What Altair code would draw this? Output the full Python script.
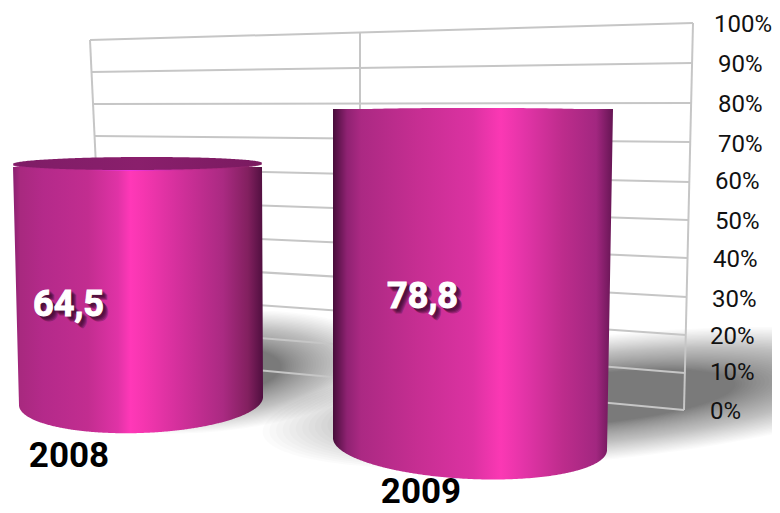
import altair as alt
import numpy as np
import pandas as pd

# ---- chart values ----
years = ["2008", "2009"]
values = [64.5, 78.8]
value_labels = ["64,5", "78,8"]
tick_labels = ["0%", "10%", "20%", "30%", "40%", "50%", "60%", "70%", "80%", "90%", "100%"]

# ---- layout (picture geometry) ----
W, H = 764, 497
xs = alt.Scale(domain=[8, 772], range=[0, W], nice=False, zero=False)
ys = alt.Scale(domain=[8, 505], range=[0, H], nice=False, zero=False)

grid_left_y = [356, 325, 294, 263, 232, 200, 168, 136, 104, 72, 40]
grid_right_y = [410, 373, 335, 297, 258, 220, 182, 142, 103, 63, 23]
label_x = [710, 710, 710, 712, 713, 715, 715, 718, 718, 718, 714]
label_y = [412, 373, 337, 300, 260, 222, 182, 145, 105, 65, 25]


def ellipse_rows(cx, cy, a, b, tilt=0.0, n=240):
    t = np.linspace(0, 2 * np.pi, n, endpoint=False)
    px = cx + a * np.cos(t)
    py = cy + b * np.sin(t) + tilt * a * np.cos(t)
    i_top, i_low = int(np.argmin(py)), int(np.argmax(py))
    px = np.roll(px, -i_top)
    py = np.roll(py, -i_top)
    i_low = (i_low - i_top) % n
    rx, ry = np.r_[px[:i_low + 1]], np.r_[py[:i_low + 1]]
    lx, ly = np.r_[px[i_low:], px[0]][::-1], np.r_[py[i_low:], py[0]][::-1]
    yy = np.unique(np.r_[ry, ly])
    return pd.DataFrame({"y": yy, "xl": np.interp(yy, ly, lx), "xr": np.interp(yy, ry, rx)})


def body_rows(top_y, xtl, xtr, L, R, sag, n=160):
    t = np.linspace(0, np.pi, n)
    mx, my = (L[0] + R[0]) / 2, (L[1] + R[1]) / 2
    ax = mx - (R[0] - L[0]) / 2 * np.cos(t)
    ay = my - (R[1] - L[1]) / 2 * np.cos(t) + sag * np.sin(t)
    low = int(np.argmax(ay))
    lx = np.r_[xtl, ax[:low + 1]]
    ly = np.r_[top_y, ay[:low + 1]]
    rx = np.r_[xtr, ax[low:][::-1]]
    ry = np.r_[top_y, ay[low:][::-1]]
    yy = np.unique(np.r_[ly, ry])
    return pd.DataFrame({"y": yy, "xl": np.interp(yy, ly, lx), "xr": np.interp(yy, ry, rx)})


def grad(stops):
    return alt.Gradient(gradient="linear", x1=0, x2=1, y1=0, y2=0,
                        stops=[alt.GradientStop(offset=o, color=c) for o, c in stops])


def area(df, **mark):
    return alt.Chart(df).mark_area(orient="horizontal", **mark).encode(
        y=alt.Y("y:Q", scale=ys, axis=None),
        x=alt.X("xl:Q", scale=xs, axis=None),
        x2="xr:Q",
    )


# soft shadows: stacks of faint concentric ellipses, sparser toward the outer edge
def shadow(cx, cy, a, b, tilt, n=40, alpha=0.0165, lo=0.5, hi=1.25):
    rows = []
    for i, u in enumerate(np.linspace(0, 1, n)):
        f = lo + (hi - lo) * u ** 1.3
        r = ellipse_rows(cx, cy, a * f, b * f, tilt, n=120)
        r["ring"] = i
        rows.append(r)
    df = pd.concat(rows)
    return alt.Chart(df).mark_area(orient="horizontal", color="#000000", opacity=alpha, clip=True).encode(
        y=alt.Y("y:Q", scale=ys, axis=None),
        x=alt.X("xl:Q", scale=xs, axis=None),
        x2="xr:Q",
        detail="ring:N",
    )


shadow_a = shadow(212, 372, 138, 48, -0.08)
shadow_b = shadow(600, 398, 270, 50, -0.10)

# wall grid
grid_df = pd.DataFrame({
    "x": [90 + (y - 40) * 0.05 for y in grid_left_y],
    "x2": [684 + (y - 410) * -0.0232 for y in grid_right_y],
    "y": grid_left_y,
    "y2": grid_right_y,
})
frame_df = pd.DataFrame({
    "x": [90, 693, 360], "x2": [105, 684, 360],
    "y": [40, 23, 32], "y2": [356, 410, 200],
})


def rules(df):
    return alt.Chart(df).mark_rule(color="#c6c6c6", strokeWidth=2).encode(
        x=alt.X("x:Q", scale=xs, axis=None), x2="x2:Q",
        y=alt.Y("y:Q", scale=ys, axis=None), y2="y2:Q",
    )


ticks_df = pd.DataFrame({"label": tick_labels, "x": label_x, "y": label_y})
ticks = alt.Chart(ticks_df).mark_text(
    font="Roboto", fontSize=24, align="left", baseline="middle", color="#111111"
).encode(
    x=alt.X("x:Q", scale=xs, axis=None),
    y=alt.Y("y:Q", scale=ys, axis=None),
    text="label:N",
)

# cylinders: height comes from the value
stops_a = [(0, "#8a2070"), (0.03, "#a8297f"), (0.12, "#b42a8a"), (0.30, "#c22d90"),
           (0.42, "#e033a6"), (0.47, "#ff38b8"), (0.52, "#f636b0"), (0.66, "#d4309c"),
           (0.84, "#aa2a82"), (0.94, "#82205f"), (1, "#4f0f3f")]
stops_b = [(0, "#470d3a"), (0.05, "#8f2272"), (0.10, "#ab2983"), (0.30, "#c62e92"),
           (0.50, "#dc32a2"), (0.60, "#fb38b4"), (0.68, "#e434a8"), (0.82, "#bd2c8c"),
           (0.94, "#a22780"), (1, "#651553")]

base_y = [405, 444]
px_per_unit = [3.69, 4.25]
top_y = [base_y[i] - values[i] * px_per_unit[i] for i in range(2)]

body_a = area(body_rows(top_y[0], 13, 262, (19, 405), (263, 397), 32), color=grad(stops_a))
body_b = area(body_rows(top_y[1], 333, 613, (333, 438), (607, 450), 35), color=grad(stops_b))

rim_a = area(ellipse_rows(137.5, 164.5, 124.5, 6.5, -0.004),
             color=grad([(0, "#a0277f"), (0.3, "#c22d90"), (0.47, "#f036e0"), (0.7, "#c22d90"), (1, "#80205f")]))
lid_a = area(ellipse_rows(137.5, 163.5, 124.5, 6.5, -0.004),
             color=grad([(0, "#7e1c66"), (0.5, "#8a1f6c"), (1, "#7a1a60")]))
lid_b = area(ellipse_rows(473, top_y[1] + 2, 140, 3.2), color=grad(stops_b))

# text
year_df = pd.DataFrame({"label": years, "x": [69, 421], "y": [467, 503]})
year_text = alt.Chart(year_df).mark_text(
    font="Roboto", fontSize=35, fontWeight="bold", color="#000000", align="center", baseline="alphabetic"
).encode(x=alt.X("x:Q", scale=xs, axis=None), y=alt.Y("y:Q", scale=ys, axis=None), text="label:N")

val_df = pd.DataFrame({"label": value_labels, "x": [68.5, 422.5], "y": [316, 308]})


def val_text(dx, dy, color, opacity=1.0, stroke=0.0):
    return alt.Chart(val_df).mark_text(
        font="Roboto", fontSize=36, fontWeight="bold", color=color, opacity=opacity,
        align="center", baseline="alphabetic", dx=dx, dy=dy, stroke=color, strokeWidth=stroke,
    ).encode(x=alt.X("x:Q", scale=xs, axis=None), y=alt.Y("y:Q", scale=ys, axis=None), text="label:N")


val_layers = [val_text(d, d, "#2a0620", 0.28, 1.0) for d in (2, 3, 4, 5)] + [val_text(0, 0, "#ffffff", 1.0, 1.0)]

chart = alt.layer(
    shadow_a, shadow_b, rules(grid_df), rules(frame_df), ticks,
    body_a, rim_a, lid_a, body_b, lid_b, year_text, *val_layers,
).properties(
    width=W, height=H,
    autosize=alt.AutoSizeParams(type="none", contains="padding"),
    padding=0, background="#ffffff",
).configure_view(stroke=None)

chart.save("out.html", embed_options={"renderer": "svg", "actions": False})
